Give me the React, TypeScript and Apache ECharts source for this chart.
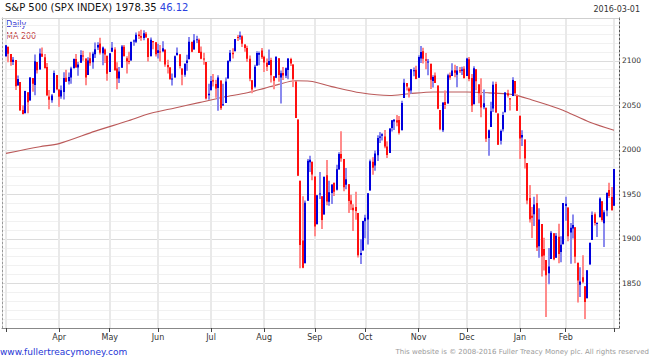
import React, { useEffect, useRef } from "react";
import * as echarts from "echarts";

// [date, open, high, low, close]
type Row = [string, number, number, number, number];

const mar15: Row[] = [
  ["2015-03-02", 2105.2, 2117.5, 2104.5, 2117.4], ["2015-03-03", 2115.8, 2115.8, 2098.3, 2107.8],
  ["2015-03-04", 2107.7, 2107.7, 2094.5, 2098.5], ["2015-03-05", 2098.5, 2104.3, 2095.2, 2101.0],
  ["2015-03-06", 2100.9, 2100.9, 2067.3, 2071.3], ["2015-03-09", 2072.3, 2083.5, 2072.2, 2079.4],
  ["2015-03-10", 2076.1, 2076.1, 2044.2, 2044.2], ["2015-03-11", 2044.7, 2050.1, 2039.7, 2040.2],
  ["2015-03-12", 2041.1, 2066.4, 2041.1, 2066.0], ["2015-03-13", 2064.6, 2064.6, 2041.2, 2053.4],
  ["2015-03-16", 2055.4, 2081.4, 2055.4, 2081.2], ["2015-03-17", 2080.6, 2080.6, 2065.1, 2074.3],
  ["2015-03-18", 2072.8, 2106.9, 2061.2, 2099.5], ["2015-03-19", 2098.7, 2098.7, 2085.6, 2089.3],
  ["2015-03-20", 2090.3, 2113.9, 2090.3, 2108.1], ["2015-03-23", 2108.0, 2114.9, 2104.4, 2104.4],
  ["2015-03-24", 2103.9, 2107.6, 2091.5, 2091.5], ["2015-03-25", 2093.1, 2097.4, 2061.1, 2061.1],
  ["2015-03-26", 2059.9, 2067.2, 2045.5, 2056.2], ["2015-03-27", 2055.8, 2062.8, 2053.0, 2061.0],
  ["2015-03-30", 2064.1, 2089.0, 2064.1, 2086.2], ["2015-03-31", 2084.1, 2084.1, 2067.0, 2067.9],
];
const apr15: Row[] = [
  ["2015-04-01", 2067.6, 2067.6, 2048.4, 2059.7], ["2015-04-02", 2060.0, 2072.2, 2057.3, 2067.0],
  ["2015-04-06", 2064.9, 2087.0, 2056.5, 2080.6], ["2015-04-07", 2080.8, 2089.8, 2076.1, 2076.3],
  ["2015-04-08", 2076.9, 2086.7, 2073.3, 2081.9], ["2015-04-09", 2081.3, 2093.3, 2074.3, 2091.2],
  ["2015-04-10", 2091.5, 2102.6, 2091.5, 2102.1], ["2015-04-13", 2102.0, 2107.7, 2092.3, 2092.4],
  ["2015-04-14", 2092.3, 2098.6, 2083.2, 2095.8], ["2015-04-15", 2097.8, 2111.9, 2097.8, 2106.6],
  ["2015-04-16", 2106.0, 2111.3, 2100.0, 2105.0], ["2015-04-17", 2102.6, 2102.6, 2072.4, 2081.2],
  ["2015-04-20", 2084.1, 2103.9, 2084.1, 2100.4], ["2015-04-21", 2102.8, 2109.6, 2094.4, 2097.3],
  ["2015-04-22", 2098.3, 2110.0, 2091.1, 2108.0], ["2015-04-23", 2107.2, 2120.5, 2103.2, 2112.9],
  ["2015-04-24", 2114.8, 2120.9, 2112.1, 2117.7], ["2015-04-27", 2119.3, 2125.9, 2107.0, 2108.9],
  ["2015-04-28", 2108.4, 2116.0, 2094.9, 2114.8], ["2015-04-29", 2112.5, 2113.7, 2097.4, 2106.9],
  ["2015-04-30", 2105.5, 2105.5, 2077.6, 2085.5],
];
const may15: Row[] = [
  ["2015-05-01", 2087.4, 2108.4, 2087.4, 2108.3], ["2015-05-04", 2110.2, 2121.0, 2110.2, 2114.5],
  ["2015-05-05", 2112.6, 2115.2, 2088.5, 2089.5], ["2015-05-06", 2091.3, 2098.4, 2067.9, 2080.2],
  ["2015-05-07", 2080.0, 2092.9, 2075.0, 2088.0], ["2015-05-08", 2092.1, 2117.7, 2092.1, 2116.1],
  ["2015-05-11", 2115.6, 2117.7, 2104.6, 2105.3], ["2015-05-12", 2102.9, 2105.1, 2085.6, 2099.1],
  ["2015-05-13", 2099.6, 2110.2, 2096.0, 2098.5], ["2015-05-14", 2100.4, 2121.5, 2100.4, 2121.1],
  ["2015-05-15", 2122.1, 2123.9, 2116.8, 2122.7], ["2015-05-18", 2121.3, 2131.8, 2120.0, 2129.2],
  ["2015-05-19", 2129.5, 2133.0, 2124.5, 2127.8], ["2015-05-20", 2127.8, 2134.7, 2122.6, 2125.9],
  ["2015-05-21", 2125.6, 2134.3, 2123.0, 2130.8], ["2015-05-22", 2130.4, 2132.2, 2126.1, 2126.1],
  ["2015-05-26", 2125.3, 2125.3, 2099.2, 2104.2], ["2015-05-27", 2105.1, 2126.2, 2105.1, 2123.5],
  ["2015-05-28", 2122.3, 2122.3, 2112.9, 2120.8], ["2015-05-29", 2120.7, 2120.7, 2104.9, 2107.4],
];
const jun15: Row[] = [
  ["2015-06-01", 2108.6, 2119.2, 2102.5, 2111.7], ["2015-06-02", 2110.4, 2117.6, 2099.1, 2109.6],
  ["2015-06-03", 2110.6, 2121.9, 2109.6, 2114.1], ["2015-06-04", 2112.4, 2112.9, 2093.2, 2095.8],
  ["2015-06-05", 2095.1, 2101.0, 2085.7, 2092.8], ["2015-06-08", 2092.3, 2093.0, 2079.1, 2079.3],
  ["2015-06-09", 2079.1, 2085.6, 2072.1, 2080.2], ["2015-06-10", 2081.1, 2105.9, 2081.1, 2105.2],
  ["2015-06-11", 2106.2, 2115.0, 2106.2, 2108.9], ["2015-06-12", 2107.4, 2107.4, 2091.3, 2094.1],
  ["2015-06-15", 2091.3, 2091.3, 2072.5, 2084.4], ["2015-06-16", 2084.3, 2097.4, 2082.1, 2096.3],
  ["2015-06-17", 2097.4, 2106.8, 2088.9, 2100.4], ["2015-06-18", 2101.6, 2126.7, 2101.6, 2121.2],
  ["2015-06-19", 2121.1, 2121.6, 2109.5, 2110.0], ["2015-06-22", 2112.5, 2129.9, 2112.5, 2122.9],
  ["2015-06-23", 2123.2, 2128.0, 2119.9, 2124.2], ["2015-06-24", 2123.7, 2125.1, 2108.6, 2108.6],
  ["2015-06-25", 2110.0, 2116.0, 2101.8, 2102.3], ["2015-06-26", 2102.6, 2108.9, 2095.4, 2101.5],
  ["2015-06-29", 2098.6, 2098.6, 2056.6, 2057.6], ["2015-06-30", 2061.2, 2074.3, 2056.3, 2063.1],
];
const jul15: Row[] = [
  ["2015-07-01", 2067.0, 2082.8, 2067.0, 2077.4], ["2015-07-02", 2078.0, 2085.1, 2071.0, 2076.8],
  ["2015-07-06", 2074.0, 2078.6, 2058.4, 2068.8], ["2015-07-07", 2069.5, 2083.7, 2044.0, 2081.3],
  ["2015-07-08", 2077.7, 2077.7, 2044.7, 2046.7], ["2015-07-09", 2049.7, 2074.3, 2049.7, 2051.3],
  ["2015-07-10", 2052.7, 2081.3, 2052.7, 2076.6], ["2015-07-13", 2080.0, 2100.7, 2080.0, 2099.6],
  ["2015-07-14", 2099.7, 2112.0, 2098.2, 2109.0], ["2015-07-15", 2109.0, 2114.1, 2102.5, 2107.4],
  ["2015-07-16", 2110.6, 2124.4, 2110.6, 2124.3], ["2015-07-17", 2126.8, 2128.9, 2122.1, 2126.6],
  ["2015-07-20", 2126.9, 2132.8, 2123.7, 2128.3], ["2015-07-21", 2127.6, 2128.5, 2115.4, 2119.2],
  ["2015-07-22", 2118.2, 2118.5, 2110.0, 2114.2], ["2015-07-23", 2114.2, 2116.9, 2098.6, 2102.2],
  ["2015-07-24", 2102.2, 2106.0, 2077.1, 2079.7], ["2015-07-27", 2078.2, 2078.2, 2063.5, 2067.6],
  ["2015-07-28", 2070.8, 2095.6, 2069.1, 2093.3], ["2015-07-29", 2094.7, 2110.6, 2094.1, 2108.6],
  ["2015-07-30", 2106.8, 2110.5, 2095.0, 2108.6], ["2015-07-31", 2111.6, 2114.2, 2102.1, 2103.8],
];
const aug15: Row[] = [
  ["2015-08-03", 2104.5, 2105.7, 2087.3, 2098.0], ["2015-08-04", 2097.7, 2102.5, 2088.6, 2093.3],
  ["2015-08-05", 2095.3, 2112.7, 2095.3, 2099.8], ["2015-08-06", 2100.8, 2103.3, 2075.5, 2083.6],
  ["2015-08-07", 2082.6, 2082.6, 2067.9, 2077.6], ["2015-08-10", 2081.0, 2105.4, 2081.0, 2104.2],
  ["2015-08-11", 2102.7, 2102.7, 2076.5, 2084.1], ["2015-08-12", 2081.1, 2089.1, 2052.1, 2086.1],
  ["2015-08-13", 2086.2, 2092.9, 2078.3, 2083.4], ["2015-08-14", 2083.2, 2092.5, 2080.6, 2091.5],
  ["2015-08-17", 2089.7, 2102.9, 2079.3, 2102.4], ["2015-08-18", 2102.0, 2103.5, 2094.1, 2096.9],
  ["2015-08-19", 2095.7, 2096.2, 2070.5, 2079.6], ["2015-08-20", 2076.6, 2076.6, 2035.7, 2035.7],
  ["2015-08-21", 2034.1, 2034.1, 1970.9, 1970.9], ["2015-08-24", 1965.2, 1965.2, 1867.0, 1893.2],
  ["2015-08-25", 1898.1, 1948.0, 1867.1, 1867.6], ["2015-08-26", 1872.8, 1943.1, 1872.8, 1940.5],
  ["2015-08-27", 1942.8, 1989.6, 1942.8, 1987.7], ["2015-08-28", 1986.1, 1993.5, 1975.2, 1988.9],
  ["2015-08-31", 1986.7, 1986.7, 1966.0, 1972.2],
];
const sep15: Row[] = [
  ["2015-09-01", 1970.1, 1970.1, 1903.1, 1913.9], ["2015-09-02", 1916.5, 1948.9, 1916.5, 1948.9],
  ["2015-09-03", 1950.8, 1975.0, 1944.7, 1951.1], ["2015-09-04", 1947.8, 1947.8, 1911.2, 1921.2],
  ["2015-09-08", 1927.3, 1970.4, 1927.3, 1969.4], ["2015-09-09", 1971.5, 1988.6, 1937.9, 1942.0],
  ["2015-09-10", 1941.6, 1965.3, 1937.2, 1952.3], ["2015-09-11", 1951.5, 1961.1, 1939.2, 1961.1],
  ["2015-09-14", 1963.1, 1963.1, 1948.3, 1953.0], ["2015-09-15", 1955.1, 1983.2, 1954.3, 1978.1],
  ["2015-09-16", 1978.0, 1997.3, 1977.9, 1995.3], ["2015-09-17", 1995.3, 2020.9, 1986.7, 1990.2],
  ["2015-09-18", 1989.7, 1989.7, 1953.5, 1958.0], ["2015-09-21", 1960.8, 1979.6, 1955.8, 1967.0],
  ["2015-09-22", 1961.4, 1961.4, 1929.2, 1942.7], ["2015-09-23", 1943.2, 1949.5, 1932.6, 1938.8],
  ["2015-09-24", 1935.0, 1938.9, 1908.9, 1932.2], ["2015-09-25", 1935.9, 1952.9, 1921.5, 1931.3],
  ["2015-09-28", 1929.2, 1929.2, 1879.2, 1881.8], ["2015-09-29", 1881.9, 1899.5, 1871.9, 1884.1],
  ["2015-09-30", 1887.1, 1920.5, 1887.1, 1920.0],
];
const oct15: Row[] = [
  ["2015-10-01", 1919.7, 1927.2, 1900.7, 1923.8], ["2015-10-02", 1921.8, 1951.4, 1893.7, 1951.4],
  ["2015-10-05", 1954.3, 1989.2, 1954.3, 1987.1], ["2015-10-06", 1986.6, 1991.6, 1972.0, 1979.9],
  ["2015-10-07", 1982.3, 1999.3, 1976.4, 1995.8], ["2015-10-08", 1994.0, 2016.5, 1987.5, 2013.4],
  ["2015-10-09", 2013.7, 2020.1, 2007.6, 2014.9], ["2015-10-12", 2015.7, 2018.7, 2010.6, 2017.5],
  ["2015-10-13", 2015.0, 2022.3, 2001.8, 2003.7], ["2015-10-14", 2003.7, 2009.6, 1990.7, 1994.2],
  ["2015-10-15", 1996.5, 2024.2, 1996.5, 2023.9], ["2015-10-16", 2024.4, 2033.5, 2020.5, 2033.1],
  ["2015-10-19", 2031.7, 2034.5, 2022.3, 2033.7], ["2015-10-20", 2033.1, 2039.1, 2026.6, 2030.8],
  ["2015-10-21", 2033.5, 2038.0, 2017.2, 2018.9], ["2015-10-22", 2021.9, 2055.2, 2021.9, 2052.5],
  ["2015-10-23", 2058.2, 2079.7, 2058.2, 2075.2], ["2015-10-26", 2075.1, 2075.1, 2066.5, 2071.2],
  ["2015-10-27", 2068.8, 2070.4, 2058.8, 2065.9], ["2015-10-28", 2066.5, 2090.4, 2063.1, 2090.4],
  ["2015-10-29", 2088.4, 2092.5, 2082.6, 2089.4], ["2015-10-30", 2090.0, 2094.3, 2079.3, 2079.4],
];
const nov15: Row[] = [
  ["2015-11-02", 2080.8, 2106.2, 2080.8, 2104.1], ["2015-11-03", 2102.6, 2116.5, 2097.5, 2109.8],
  ["2015-11-04", 2110.6, 2114.6, 2097.0, 2102.3], ["2015-11-05", 2101.7, 2108.8, 2090.4, 2099.9],
  ["2015-11-06", 2098.6, 2101.9, 2083.7, 2099.2], ["2015-11-09", 2096.6, 2096.6, 2068.2, 2078.6],
  ["2015-11-10", 2077.2, 2083.7, 2069.9, 2081.7], ["2015-11-11", 2083.4, 2086.9, 2074.9, 2075.0],
  ["2015-11-12", 2072.3, 2072.3, 2045.7, 2046.0], ["2015-11-13", 2044.6, 2044.6, 2022.0, 2023.0],
  ["2015-11-16", 2022.1, 2053.2, 2019.9, 2053.2], ["2015-11-17", 2053.7, 2066.7, 2045.9, 2050.4],
  ["2015-11-18", 2052.0, 2085.3, 2052.0, 2083.6], ["2015-11-19", 2083.7, 2086.7, 2078.8, 2081.2],
  ["2015-11-20", 2082.8, 2097.1, 2082.8, 2089.2], ["2015-11-23", 2089.4, 2095.6, 2081.4, 2086.6],
  ["2015-11-24", 2084.4, 2094.1, 2070.3, 2089.1], ["2015-11-25", 2089.3, 2093.0, 2086.3, 2088.9],
  ["2015-11-27", 2088.8, 2093.3, 2084.1, 2090.1], ["2015-11-30", 2091.0, 2093.8, 2080.4, 2080.4],
];
const dec15: Row[] = [
  ["2015-12-01", 2082.9, 2103.4, 2082.9, 2102.6], ["2015-12-02", 2101.7, 2104.3, 2077.1, 2079.5],
  ["2015-12-03", 2080.7, 2085.0, 2042.4, 2049.6], ["2015-12-04", 2051.2, 2093.8, 2051.2, 2091.7],
  ["2015-12-07", 2090.4, 2090.4, 2066.8, 2077.1], ["2015-12-08", 2073.4, 2073.9, 2052.3, 2063.6],
  ["2015-12-09", 2061.2, 2080.3, 2036.5, 2047.6], ["2015-12-10", 2047.9, 2067.7, 2045.7, 2052.2],
  ["2015-12-11", 2047.3, 2047.3, 2008.8, 2012.4], ["2015-12-14", 2013.4, 2022.9, 1993.3, 2021.9],
  ["2015-12-15", 2025.6, 2053.9, 2025.6, 2043.4], ["2015-12-16", 2046.5, 2076.7, 2042.4, 2073.1],
  ["2015-12-17", 2073.8, 2076.4, 2041.7, 2041.9], ["2015-12-18", 2040.8, 2040.8, 2005.3, 2005.6],
  ["2015-12-21", 2010.3, 2022.9, 2005.9, 2021.2], ["2015-12-22", 2023.2, 2042.7, 2020.5, 2039.0],
  ["2015-12-23", 2042.2, 2064.7, 2042.2, 2064.3], ["2015-12-24", 2063.5, 2067.4, 2058.7, 2061.0],
  ["2015-12-28", 2057.8, 2057.8, 2044.2, 2056.5], ["2015-12-29", 2060.5, 2081.6, 2060.5, 2078.4],
  ["2015-12-30", 2077.3, 2077.3, 2062.0, 2063.4], ["2015-12-31", 2060.6, 2062.5, 2043.6, 2043.9],
];
const jan16: Row[] = [
  ["2016-01-04", 2038.2, 2038.2, 1989.7, 2012.7], ["2016-01-05", 2013.8, 2021.9, 2004.2, 2016.7],
  ["2016-01-06", 2011.7, 2011.7, 1979.1, 1990.3], ["2016-01-07", 1985.3, 1985.3, 1938.8, 1943.1],
  ["2016-01-08", 1946.0, 1960.4, 1918.5, 1922.0], ["2016-01-11", 1926.1, 1935.7, 1901.1, 1923.7],
  ["2016-01-12", 1927.8, 1947.4, 1914.4, 1938.7], ["2016-01-13", 1940.3, 1950.3, 1886.4, 1890.3],
  ["2016-01-14", 1891.7, 1934.5, 1878.9, 1921.8], ["2016-01-15", 1916.7, 1916.7, 1857.8, 1880.3],
  ["2016-01-19", 1888.7, 1901.4, 1864.6, 1881.3], ["2016-01-20", 1876.2, 1876.2, 1812.3, 1859.3],
  ["2016-01-21", 1861.5, 1889.9, 1849.0, 1869.0], ["2016-01-22", 1877.4, 1908.9, 1877.4, 1906.9],
  ["2016-01-25", 1906.3, 1906.3, 1876.0, 1877.1], ["2016-01-26", 1878.8, 1906.7, 1878.8, 1903.6],
  ["2016-01-27", 1902.5, 1917.0, 1872.7, 1883.0], ["2016-01-28", 1885.2, 1903.0, 1873.7, 1893.4],
  ["2016-01-29", 1894.0, 1940.2, 1894.0, 1940.2],
];
const feb16: Row[] = [
  ["2016-02-01", 1936.9, 1947.2, 1920.3, 1939.4], ["2016-02-02", 1935.3, 1935.3, 1897.3, 1903.0],
  ["2016-02-03", 1907.1, 1918.0, 1872.2, 1912.5], ["2016-02-04", 1911.7, 1927.4, 1900.5, 1915.5],
  ["2016-02-05", 1913.1, 1913.1, 1872.7, 1880.1], ["2016-02-08", 1873.3, 1873.3, 1828.5, 1853.4],
  ["2016-02-09", 1848.5, 1868.3, 1834.9, 1852.2], ["2016-02-10", 1857.1, 1881.6, 1850.3, 1851.9],
  ["2016-02-11", 1847.0, 1847.0, 1810.1, 1829.1], ["2016-02-12", 1833.4, 1864.8, 1833.4, 1864.8],
  ["2016-02-16", 1871.4, 1895.8, 1871.4, 1895.6], ["2016-02-17", 1898.8, 1930.7, 1898.8, 1926.8],
  ["2016-02-18", 1927.6, 1930.0, 1915.1, 1917.8], ["2016-02-19", 1916.7, 1918.8, 1902.2, 1917.8],
  ["2016-02-22", 1924.4, 1946.7, 1924.4, 1945.5], ["2016-02-23", 1942.4, 1942.4, 1919.4, 1921.3],
  ["2016-02-24", 1917.6, 1932.1, 1891.0, 1929.8], ["2016-02-25", 1931.9, 1951.8, 1925.4, 1951.7],
  ["2016-02-26", 1955.0, 1963.0, 1945.8, 1948.1], ["2016-02-29", 1947.1, 1958.3, 1931.8, 1932.2],
];
const mar16: Row[] = [["2016-03-01", 1937.1, 1978.4, 1937.1, 1978.4]];

// 200-day moving average at sample dates
const ma200: [string, number][] = [
  ["2015-03-02", 1996], ["2015-03-20", 2003.5], ["2015-04-01", 2007], ["2015-04-23", 2021],
  ["2015-05-12", 2032], ["2015-05-27", 2041], ["2015-06-10", 2047], ["2015-06-24", 2053],
  ["2015-07-09", 2059], ["2015-07-23", 2064], ["2015-08-03", 2069], ["2015-08-11", 2073.5],
  ["2015-08-20", 2077.5], ["2015-08-28", 2077], ["2015-09-11", 2071], ["2015-09-29", 2064],
  ["2015-10-15", 2061], ["2015-10-27", 2063], ["2015-11-10", 2065], ["2015-12-01", 2065],
  ["2015-12-14", 2064], ["2015-12-29", 2062], ["2016-01-11", 2056], ["2016-01-21", 2050],
  ["2016-02-01", 2043], ["2016-02-16", 2031], ["2016-03-01", 2022],
];

const monthNames = ["Jan", "Feb", "Mar", "Apr", "May", "Jun", "Jul", "Aug", "Sep", "Oct", "Nov", "Dec"];
const yTicks = [1850, 1900, 1950, 2000, 2050, 2100];

const titleMain = "S&P 500 (SPX INDEX) 1978.35";
const titleChange = "46.12";
const dateText = "2016-03-01";
const footerLeft = "www.fullertreacymoney.com";
const footerRight = "This website is \u00a9 2008-2016 Fuller Treacy Money plc. All rights reserved";

const BLUE = "#0000dd";
const RED = "#ff1010";
const PALE_BLUE = "#8a8aee";
const PALE_RED = "#ff8c8c";
const FONT = "DejaVu Sans";

export default function App() {
  const ref = useRef<HTMLDivElement>(null);
  useEffect(() => {
    if (!ref.current) return;
    const chart = echarts.init(ref.current, undefined, { renderer: "svg" });
    const rows: Row[] = [
      ...mar15, ...apr15, ...may15, ...jun15, ...jul15, ...aug15,
      ...sep15, ...oct15, ...nov15, ...dec15, ...jan16, ...feb16, ...mar16,
    ];
    const dates = rows.map((r) => r[0]);
    const candle = rows.map((r, i) => [i, r[1], r[2], r[3], r[4]]);
    const monthIdx: number[] = [];
    const monthLabel: Record<number, string> = {};
    dates.forEach((d, i) => {
      const m = d.slice(0, 7);
      if (i === 0 || m !== dates[i - 1].slice(0, 7)) {
        monthIdx.push(i);
        monthLabel[i] = monthNames[parseInt(d.slice(5, 7), 10) - 1];
      }
    });
    const labelIdx = monthIdx.slice(1, monthIdx.length - 1);
    const maData = ma200.map(([d, v]) => [dates.indexOf(d), v]);
    const n = rows.length - 1;
    const pxPerDay = 608 / n;
    const xMin = -4 / pxPerDay;
    const xMax = n + 5 / pxPerDay;

    chart.setOption({
      animation: false,
      textStyle: { fontFamily: FONT },
      grid: { left: 2, right: 31, top: 18, bottom: 35, containLabel: false },
      graphic: [
        {
          type: "text", left: 5, top: 2,
          style: {
            text: `{a|${titleMain}} {b|${titleChange}}`,
            rich: {
              a: { font: `10px '${FONT}'`, fill: "#111" },
              b: { font: `10px '${FONT}'`, fill: "#2a3fe0" },
            },
            font: `10px '${FONT}'`,
          },
        },
        { type: "text", right: 10, top: 5, style: { text: dateText, font: `8px '${FONT}'`, fill: "#333" } },
        { type: "text", left: 6, top: 20, style: { text: "Daily", font: `8px '${FONT}'`, fill: "#3535d0" } },
        { type: "text", left: 6, top: 32, style: { text: "MA 200", font: `8px '${FONT}'`, fill: "#c04848" } },
        { type: "text", left: 0, top: 347, style: { text: footerLeft, font: `9px '${FONT}'`, fill: "#2636d6" } },
        { type: "text", right: 1, top: 348, style: { text: footerRight, font: `7px '${FONT}'`, fill: "#9a9a9a" } },
      ],
      xAxis: [
        {
          type: "value",
          min: xMin,
          max: xMax,
          axisLine: { show: true, onZero: false, lineStyle: { color: "#888", width: 1 } },
          axisTick: { show: true, customValues: monthIdx, length: 4, lineStyle: { color: "#444" } },
          axisLabel: {
            customValues: labelIdx,
            formatter: (v: number) => monthLabel[Math.round(v)] || "",
            fontSize: 8,
            fontFamily: FONT,
            color: "#333",
            margin: 5,
          },
          splitLine: { show: true, lineStyle: { color: "#e9e9e9", width: 2 } },
        },
        {
          type: "value",
          position: "top",
          min: xMin,
          max: xMax,
          axisLine: { show: true, onZero: false, lineStyle: { color: "#cfcfcf", width: 1 } },
          axisTick: { show: false },
          axisLabel: { show: false },
          splitLine: { show: false },
        },
      ],
      yAxis: [
        {
          type: "value",
          position: "right",
          min: 1800,
          max: 2148,
          interval: 50,
          axisLine: { show: true, onZero: false, lineStyle: { color: "#555", type: [2, 2], width: 1 } },
          axisTick: { show: false },
          axisLabel: {
            fontSize: 7.5,
            fontFamily: FONT,
            color: "#333",
            margin: 3,
            showMinLabel: false,
            showMaxLabel: false,
            formatter: (v: number) => (yTicks.indexOf(v) >= 0 ? String(v) : ""),
          },
          splitLine: { show: true, lineStyle: { color: "#dcdcdc", width: 1 } },
          minorTick: { show: false, splitNumber: 5 },
          minorSplitLine: { show: true, lineStyle: { color: "#f1f1f1", width: 1 } },
        },
        {
          type: "value",
          position: "left",
          min: 1800,
          max: 2148,
          axisLine: { show: true, onZero: false, lineStyle: { color: "#999", type: [2, 2], width: 1 } },
          axisTick: { show: false },
          axisLabel: { show: false },
          splitLine: { show: false },
        },
      ],
      series: [
        {
          type: "line",
          name: "MA 200",
          xAxisIndex: 0,
          yAxisIndex: 0,
          data: maData,
          showSymbol: false,
          smooth: 0.3,
          z: 3,
          lineStyle: { color: "#bb5a5a", width: 1.1 },
        },
        {
          type: "custom",
          name: "Daily",
          xAxisIndex: 0,
          yAxisIndex: 0,
          z: 4,
          data: candle,
          encode: { x: 0, y: [1, 2, 3, 4] },
          renderItem: (params: any, api: any) => {
            const i = api.value(0);
            const o = api.value(1);
            const h = api.value(2);
            const l = api.value(3);
            const c = api.value(4);
            const pH = api.coord([i, h]);
            const pL = api.coord([i, l]);
            const pO = api.coord([i, o]);
            const pC = api.coord([i, c]);
            const up = c >= o;
            const w = 2;
            const x = Math.round(pH[0]) - 1;
            const top = Math.min(pO[1], pC[1]);
            const bh = Math.max(Math.abs(pO[1] - pC[1]), 1);
            return {
              type: "group",
              children: [
                {
                  type: "rect",
                  shape: { x, y: pH[1], width: w, height: Math.max(pL[1] - pH[1], 1) },
                  style: { fill: up ? PALE_BLUE : PALE_RED },
                },
                {
                  type: "rect",
                  shape: { x, y: top, width: w, height: bh },
                  style: { fill: up ? BLUE : RED },
                },
              ],
            };
          },
        },
      ],
    });
    return () => chart.dispose();
  }, []);
  return (
    <div
      ref={ref}
      style={{ position: "absolute", left: 0, top: 0, width: 650, height: 363, background: "#fff" }}
    />
  );
}
